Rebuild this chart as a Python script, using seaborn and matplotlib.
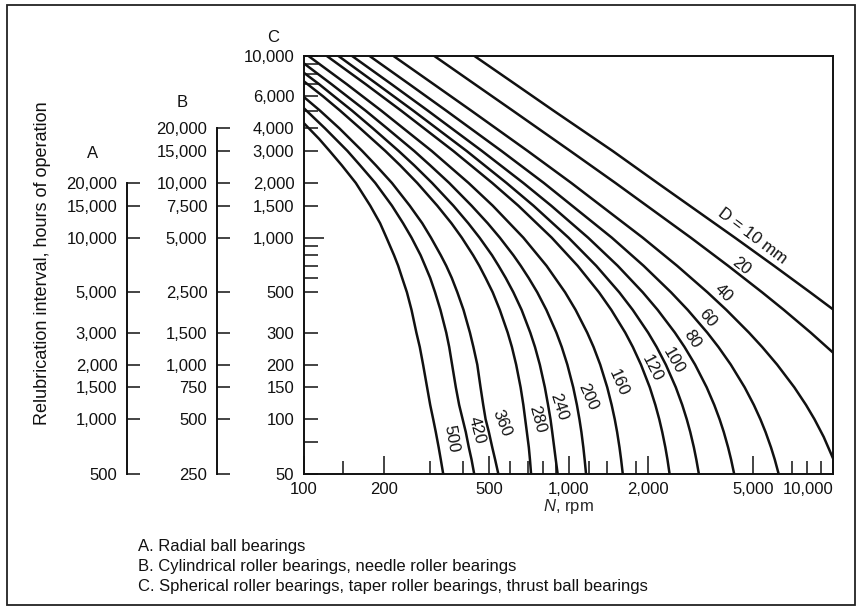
import matplotlib
matplotlib.use("Agg")
import matplotlib.pyplot as plt
from matplotlib.ticker import FixedLocator, FixedFormatter, NullFormatter, NullLocator
from matplotlib.patches import Rectangle
import pandas as pd
import seaborn as sns

# Bearing bore diameters, mm
D_MM = [10, 20, 40, 60, 80, 100, 120, 160, 200, 240, 280, 360, 420, 500]

# Speed N (rpm) and relubrication interval on scale C (hours) along each curve
N_D10 = [441, 629, 878, 1469, 2170, 4257, 5983, 8199, 10000]
H_D10 = [10000, 7000, 5000, 3000, 2000, 1000, 700, 500, 403]

N_D20 = [311, 442, 616, 1016, 1505, 2899, 4013, 5397, 6522, 8238, 10000]
H_D20 = [10000, 7000, 5000, 3000, 2000, 1000, 700, 500, 400, 300, 233]

N_D40 = [218, 309, 429, 701, 1025, 1908, 2574, 3354, 3953, 4812, 5399, 6149, 7141, 7906, 8514, 9223, 10000]
H_D40 = [10000, 7000, 5000, 3000, 2000, 1000, 700, 500, 400, 300, 250, 200, 150, 120, 100, 80, 61]

N_D60 = [177, 250, 345, 558, 807, 1458, 1923, 2442, 2824, 3347, 3689, 4108, 4634, 5021, 5316, 5561, 5830, 6025, 6232]
H_D60 = [10000, 7000, 5000, 3000, 2000, 1000, 700, 500, 400, 300, 250, 200, 150, 120, 100, 85, 70, 60, 50]

N_D80 = [152, 214, 294, 471, 675, 860, 1186, 1535, 1909, 2174, 2525, 2746, 3010, 3330, 3557, 3727, 3865, 4013, 4119, 4230]
H_D80 = [10000, 7000, 5000, 3000, 2000, 1500, 1000, 700, 500, 400, 300, 250, 200, 150, 120, 100, 85, 70, 60, 50]

N_D100 = [135, 189, 259, 412, 583, 737, 1000, 1273, 1556, 1750, 2000, 2154, 2333, 2545, 2692, 2800, 2887, 2979, 3043, 3111]
H_D100 = [10000, 7000, 5000, 3000, 2000, 1500, 1000, 700, 500, 400, 300, 250, 200, 150, 120, 100, 85, 70, 60, 50]

N_D120 = [122, 171, 233, 367, 515, 646, 864, 1083, 1304, 1452, 1639, 1751, 1879, 2029, 2130, 2204, 2262, 2324, 2367, 2411]
H_D120 = [10000, 7000, 5000, 3000, 2000, 1500, 1000, 700, 500, 400, 300, 250, 200, 150, 120, 100, 85, 70, 60, 50]

N_D160 = [104, 145, 196, 304, 419, 517, 675, 826, 971, 1064, 1177, 1244, 1318, 1401, 1456, 1496, 1527, 1559, 1581, 1604]
H_D160 = [10000, 7000, 5000, 3000, 2000, 1500, 1000, 700, 500, 400, 300, 250, 200, 150, 120, 100, 85, 70, 60, 50]

N_D200 = [100, 127, 171, 206, 261, 300, 354, 430, 495, 550, 619, 660, 707, 762, 825, 900, 943, 990, 1042, 1076, 1100, 1119, 1138, 1151, 1165]
H_D200 = [9099, 7000, 5000, 4000, 3000, 2500, 2000, 1500, 1200, 1000, 800, 700, 600, 500, 400, 300, 250, 200, 150, 120, 100, 85, 70, 60, 50]

N_D240 = [100, 114, 130, 152, 182, 228, 261, 305, 367, 418, 461, 514, 544, 579, 619, 665, 717, 747, 779, 814, 837, 855, 868, 883, 895, 910]
H_D240 = [8077, 7000, 6000, 5000, 4000, 3000, 2500, 2000, 1500, 1200, 1000, 800, 700, 600, 500, 400, 300, 250, 200, 150, 120, 100, 85, 70, 60, 50]

N_D280 = [100, 118, 137, 163, 203, 231, 268, 319, 361, 395, 436, 460, 486, 517, 550, 589, 611, 634, 659, 675, 686, 696, 708, 715, 722]
H_D280 = [7247, 6000, 5000, 4000, 3000, 2500, 2000, 1500, 1200, 1000, 800, 700, 600, 500, 400, 300, 250, 200, 150, 120, 100, 85, 70, 60, 50]

N_D360 = [100, 115, 136, 166, 187, 215, 251, 280, 302, 329, 345, 362, 380, 401, 424, 437, 452, 465, 476, 486, 500, 515, 528, 543]
H_D360 = [5939, 5000, 4000, 3000, 2500, 2000, 1500, 1200, 1000, 800, 700, 600, 500, 400, 300, 250, 200, 150, 120, 100, 85, 70, 60, 50]

N_D420 = [100, 120, 146, 163, 186, 215, 237, 255, 276, 287, 300, 313, 328, 345, 354, 363, 375, 386, 398, 409, 420, 430, 440]
H_D420 = [5151, 4000, 3000, 2500, 2000, 1500, 1200, 1000, 800, 700, 600, 500, 400, 300, 250, 200, 150, 120, 100, 85, 70, 60, 50]

N_D500 = [100, 114, 125, 139, 157, 178, 194, 205, 219, 227, 235, 245, 255, 266, 274, 282, 292, 300, 308, 315, 323, 329, 336]
H_D500 = [4261, 3500, 3000, 2500, 2000, 1500, 1200, 1000, 800, 700, 600, 500, 400, 300, 250, 200, 150, 120, 100, 85, 70, 60, 50]

# Hour scales: A = 10 x C (radial ball), B = 5 x C (cylindrical / needle roller)
A_FACTOR = 10
B_FACTOR = 5
A_TICKS = [500, 1000, 1500, 2000, 3000, 5000, 10000, 15000, 20000]
B_TICKS = [250, 500, 750, 1000, 1500, 2500, 5000, 7500, 10000, 15000, 20000]
C_TICKS = [50, 100, 150, 200, 300, 500, 1000, 1500, 2000, 3000, 4000, 6000, 10000]
C_MINOR = [75, 600, 700, 800, 900, 5000, 7000, 8000, 9000]

N_TICKS = [100, 200, 500, 1000, 2000, 5000, 10000]
N_MINOR = [140, 300, 400, 600, 700, 800, 900, 1200, 1400, 1800, 7000, 8000, 9000]

# Curve label anchors (rpm, hours on C) and text angles
LABEL_N = [4977, 4483, 3865, 3362, 2924, 2498, 2062, 1546, 1180, 917, 763, 557, 448, 360]
LABEL_H = [1020, 697, 496, 361, 277, 210, 191, 158, 133, 117, 100, 95, 87, 78]
LABEL_ROT = [-37, -38, -44, -50, -56, -60, -63, -66, -66, -72, -75, -68, -75, -80]

FOOTNOTES = [
    "A. Radial ball bearings",
    "B. Cylindrical roller bearings, needle roller bearings",
    "C. Spherical roller bearings, taper roller bearings, thrust ball bearings",
]

sns.set_style("white")
plt.rcParams["font.family"] = ["Liberation Sans", "DejaVu Sans"]
plt.rcParams["mathtext.fontset"] = "custom"
plt.rcParams["mathtext.it"] = "Liberation Sans:italic"
plt.rcParams["mathtext.rm"] = "Liberation Sans"
plt.rcParams["text.color"] = "#111111"
plt.rcParams["axes.edgecolor"] = "#111111"
plt.rcParams["xtick.color"] = "#111111"
plt.rcParams["ytick.color"] = "#111111"

curves = [
    (N_D10, H_D10), (N_D20, H_D20), (N_D40, H_D40), (N_D60, H_D60),
    (N_D80, H_D80), (N_D100, H_D100), (N_D120, H_D120), (N_D160, H_D160),
    (N_D200, H_D200), (N_D240, H_D240), (N_D280, H_D280), (N_D360, H_D360),
    (N_D420, H_D420), (N_D500, H_D500),
]
rows = []
for d, (ns, hs) in zip(D_MM, curves):
    for n, h in zip(ns, hs):
        rows.append({"D": d, "N": n, "C": h})
df = pd.DataFrame(rows)

W, H = 861, 611
DPI = 100
PT = 72 / DPI  # points per pixel
FS = 12

fig = plt.figure(figsize=(W / DPI, H / DPI), dpi=DPI)
fig.patch.set_facecolor("white")

rect = [304 / W, (H - 474) / H, (833 - 304) / W, (474 - 56) / H]
ax = fig.add_axes(rect)

sns.lineplot(data=df, x="N", y="C", hue="D", palette={d: "#111111" for d in D_MM},
             estimator=None, sort=False, legend=False, linewidth=1.8, ax=ax)

ax.set_xscale("log")
ax.set_yscale("log")
ax.set_xlim(100, 10000)
ax.set_ylim(50, 10000)

for s in ax.spines.values():
    s.set_linewidth(1.4)
    s.set_color("#111111")

# Speed axis
ax.xaxis.set_major_locator(FixedLocator(N_TICKS))
ax.xaxis.set_major_formatter(FixedFormatter([f"{v:,}" for v in N_TICKS]))
ax.xaxis.set_minor_locator(FixedLocator(N_MINOR))
ax.xaxis.set_minor_formatter(NullFormatter())
ax.tick_params(axis="x", which="major", direction="in", length=18 * PT, width=1.1,
               pad=6, labelsize=FS, bottom=True, top=False)
ax.tick_params(axis="x", which="minor", direction="in", length=13 * PT, width=1.1,
               bottom=True, top=False)
ax.set_xlabel("$N$, rpm", fontsize=FS, labelpad=0)
ax.set_ylabel("")
ax.get_xticklabels()[-1].set_horizontalalignment("right")

# Scale C on the plot's own left spine
ax.yaxis.set_major_locator(FixedLocator(C_TICKS))
ax.yaxis.set_major_formatter(FixedFormatter([f"{v:,}" for v in C_TICKS]))
ax.yaxis.set_minor_locator(FixedLocator(C_MINOR))
ax.yaxis.set_minor_formatter(NullFormatter())
ax.tick_params(axis="y", which="major", direction="in", length=14 * PT, width=1.1,
               pad=7, labelsize=FS, left=True, right=False)
ax.tick_params(axis="y", which="minor", direction="in", length=14 * PT, width=1.1,
               left=True, right=False)
for tk, v in zip(ax.yaxis.get_major_ticks(), C_TICKS):
    if v == 1000:
        tk.tick1line.set_markersize(20 * PT)


def hour_scale(offset_px, factor, ticks):
    a = fig.add_axes(rect)
    a.patch.set_visible(False)
    a.set_yscale("log")
    a.set_ylim(50 * factor, 10000 * factor)
    a.xaxis.set_visible(False)
    for side in ("top", "right", "bottom"):
        a.spines[side].set_visible(False)
    sp = a.spines["left"]
    sp.set_position(("outward", offset_px * PT))
    sp.set_bounds(ticks[0], ticks[-1])
    sp.set_linewidth(1.4)
    a.yaxis.set_major_locator(FixedLocator(ticks))
    a.yaxis.set_major_formatter(FixedFormatter([f"{v:,}" for v in ticks]))
    a.yaxis.set_minor_locator(NullLocator())
    a.tick_params(axis="y", which="major", direction="in", length=13 * PT, width=1.1,
                  pad=7, labelsize=FS, left=True, right=False)
    return a


hour_scale(304 - 127, A_FACTOR, A_TICKS)
hour_scale(304 - 217, B_FACTOR, B_TICKS)

# Curve labels
for i, d in enumerate(D_MM):
    txt = f"D = {d} mm" if i == 0 else str(d)
    ax.text(LABEL_N[i], LABEL_H[i], txt, rotation=LABEL_ROT[i], rotation_mode="anchor",
            ha="center", va="center", fontsize=FS)

# Scale titles and axis title
fig.text(93 / W, 1 - 153 / H, "A", ha="center", va="center", fontsize=FS)
fig.text(182 / W, 1 - 103 / H, "B", ha="center", va="center", fontsize=FS)
fig.text(273 / W, 1 - 38 / H, "C", ha="center", va="center", fontsize=FS)
fig.text(43 / W, 1 - 263 / H, "Relubrication interval, hours of operation",
         rotation=90, ha="center", va="center", fontsize=13)

# Footnotes
for k, line in enumerate(FOOTNOTES):
    fig.text(138 / W, 1 - (547 + 19.5 * k) / H, line, ha="left", va="center", fontsize=12)

# Outer frame
fig.add_artist(Rectangle((7 / W, 1 - 605 / H), (855 - 7) / W, (605 - 5) / H,
                         transform=fig.transFigure, fill=False, lw=1.3, ec="#222222"))

fig.savefig("out.png", dpi=DPI, facecolor="white")
